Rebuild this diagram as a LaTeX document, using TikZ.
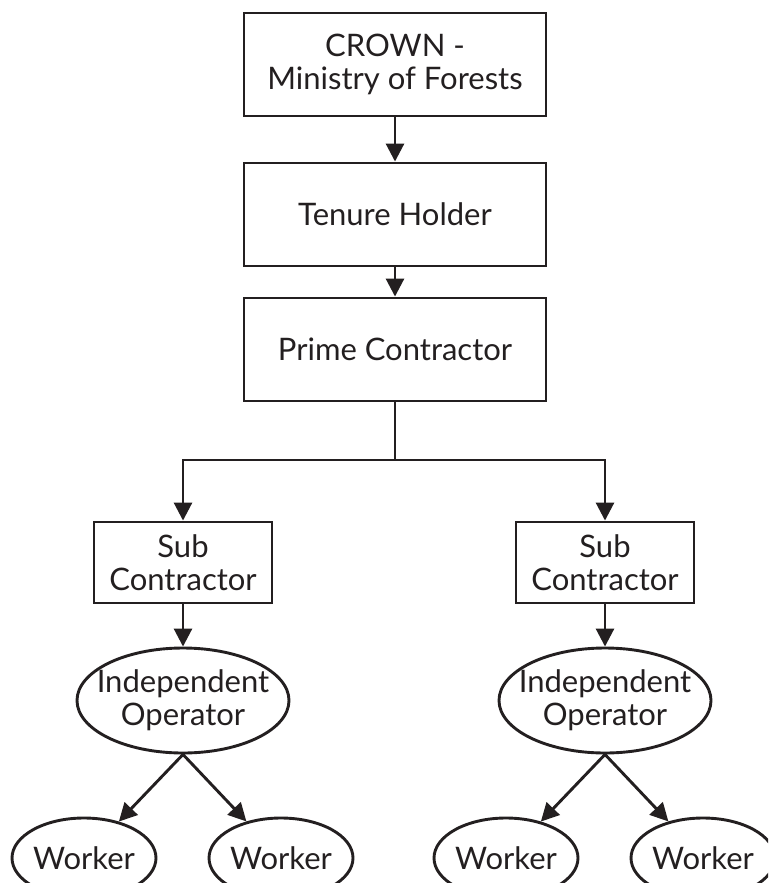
\documentclass[tikz,border=0pt]{standalone}
\usepackage{fontspec}
\setmainfont{Lato}
\usepackage{tikz}
\usetikzlibrary{arrows.meta, shapes.geometric}
\definecolor{ink}{HTML}{231F20}

\begin{document}
\begin{tikzpicture}[x=1pt, y=-1pt, >={Triangle[length=18pt, width=18pt]},
    every node/.style={font=\fontsize{31}{33}\selectfont, text=ink, align=center},
    orgbox/.style={draw=ink, line width=2.9pt, minimum width=302pt, minimum height=103pt, inner sep=0pt},
    subbox/.style={draw=ink, line width=2.9pt, minimum width=178pt, minimum height=81pt, inner sep=0pt},
    opnode/.style={draw=ink, ellipse, line width=2.9pt, minimum width=212pt, minimum height=105pt, inner xsep=-13pt, inner ysep=0pt},
    worknode/.style={draw=ink, ellipse, line width=2.9pt, minimum width=144pt, minimum height=80pt, inner sep=0pt},
    link/.style={draw=ink, line width=2.9pt}]
  % page frame, same size as the reference (workers run off the bottom edge)
  \clip (0,0) rectangle (768,883);
  % top chain of boxes on one axis
  \node[orgbox] (crown) at (395, 64.5) {CROWN -\\Ministry of Forests};
  \node[orgbox] (tenure) at (395, 214.5) {Tenure Holder};
  \node[orgbox] (prime) at (395, 349.5) {Prime Contractor};
  % split point of the branch bar
  \coordinate (split) at (395, 460);
  % two sub contractors
  \node[subbox] (subL) at (183, 562.5) {Sub\\Contractor};
  \node[subbox] (subR) at (605, 562.5) {Sub\\Contractor};
  % operators as ellipses
  \node[opnode] (opL) at (183, 700.5) {Independent\\Operator};
  \node[opnode] (opR) at (605, 700.5) {Independent\\Operator};
  % workers, cut by the page bottom
  \node[worknode] (wkA) at (84, 858) {Worker};
  \node[worknode] (wkB) at (281, 858) {Worker};
  \node[worknode] (wkC) at (506, 858) {Worker};
  \node[worknode] (wkD) at (703, 858) {Worker};
  % connectors
  \draw[link, ->] (crown) -- (tenure);
  \draw[link, ->] (tenure) -- (prime);
  \draw[link] (prime) -- (split);
  \draw[link, ->] (split) -| (subL);
  \draw[link, ->] (split) -| (subR);
  \draw[link, ->] (subL) -- (opL);
  \draw[link, ->] (subR) -- (opR);
  \draw[link, ->] (opL.south) -- (wkA);
  \draw[link, ->] (opL.south) -- (wkB);
  \draw[link, ->] (opR.south) -- (wkC);
  \draw[link, ->] (opR.south) -- (wkD);
\end{tikzpicture}
\end{document}
